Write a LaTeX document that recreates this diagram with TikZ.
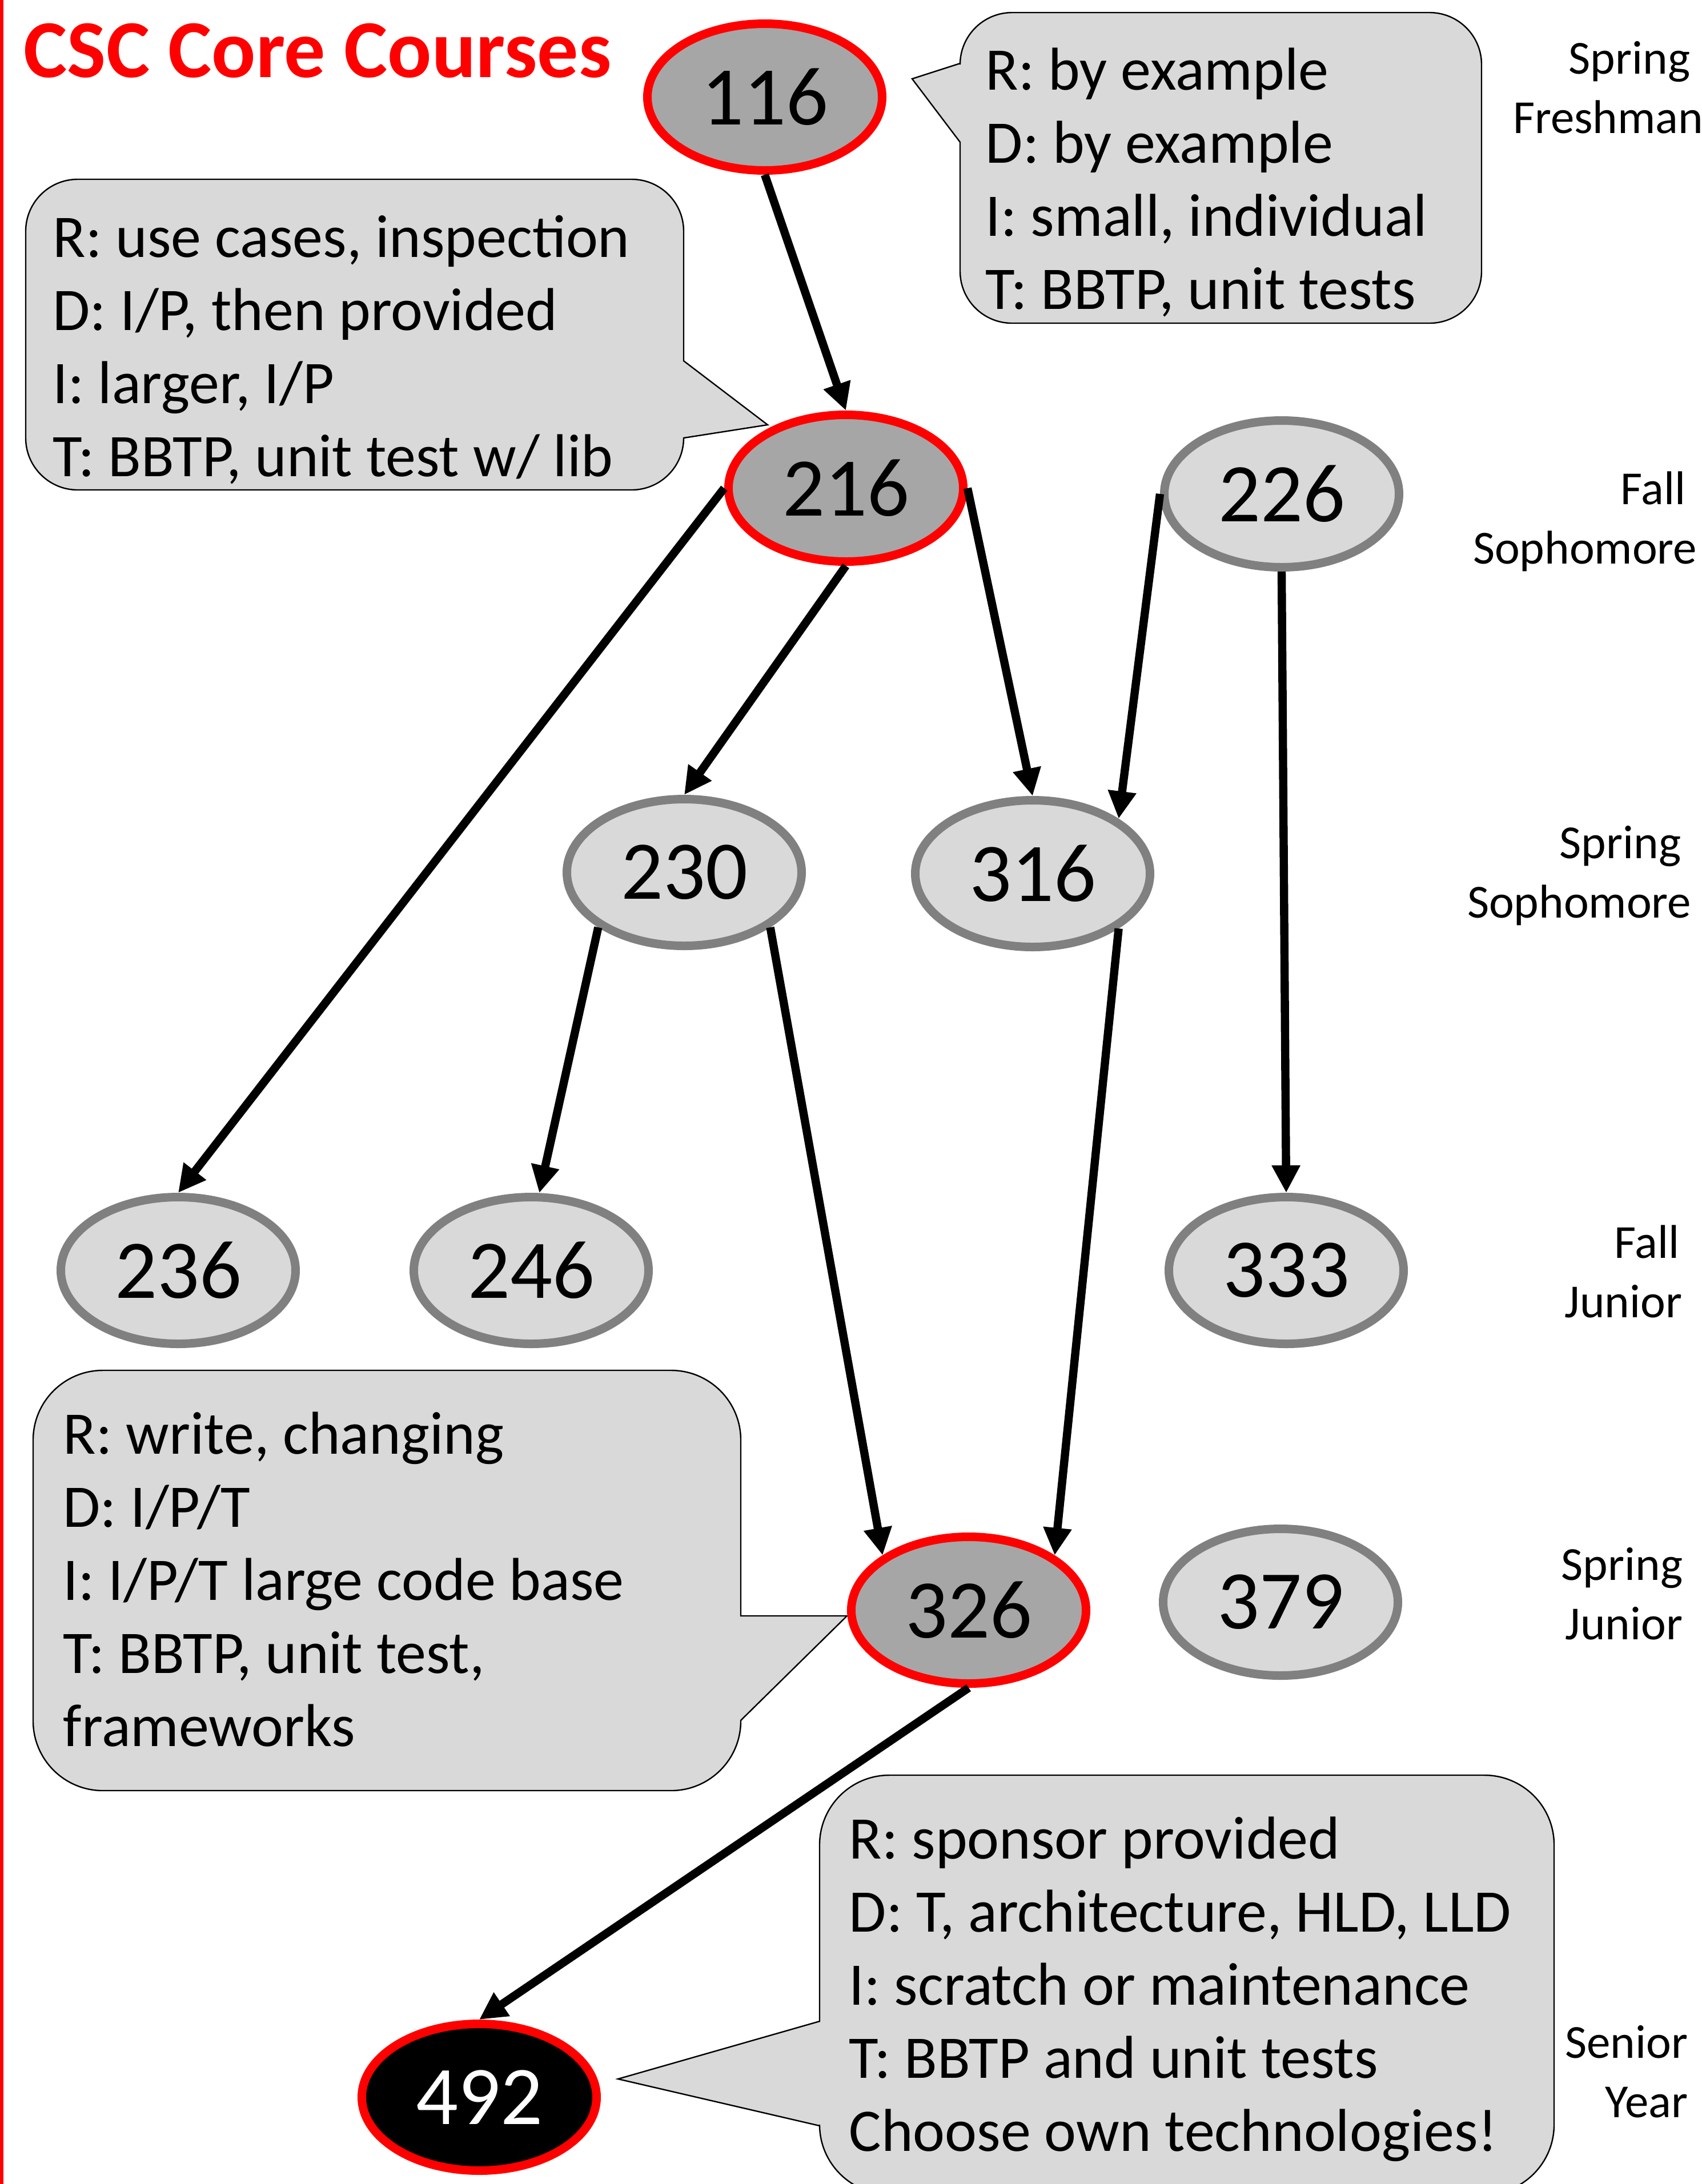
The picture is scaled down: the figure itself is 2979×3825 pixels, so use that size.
\documentclass[tikz,border=0pt]{standalone}
\usepackage{fontspec}
\setmainfont{Carlito}
\usetikzlibrary{shapes.geometric,arrows.meta}
\definecolor{pptred}{HTML}{FF0000}
\definecolor{darkfill}{HTML}{A6A6A6}
\definecolor{lightfill}{HTML}{D9D9D9}
\definecolor{grayline}{HTML}{808080}
\begin{document}
\begin{tikzpicture}[x=0.25pt,y=-0.25pt,
  course/.style={ellipse, minimum width=102.75pt, minimum height=64.25pt, inner sep=0pt, line width=3.75pt, font=\fontsize{36.5}{44}\selectfont},
  corered/.style={course, draw=pptred, fill=darkfill},
  elective/.style={course, draw=grayline, fill=lightfill},
  capstone/.style={course, draw=pptred, fill=black, text=white},
  prereq/.style={line width=3.6pt, -{Triangle[length=12pt,width=11.75pt]}},
  bubble/.style={fill=lightfill, draw=black, line width=0.6pt},
  bubbletext/.style={anchor=north west, inner sep=0pt, align=left, font=\fontsize{26.5}{32}\selectfont},
  term/.style={anchor=north east, inner sep=0pt, align=right, font=\fontsize{20.75}{26}\selectfont}]
\useasboundingbox (0,0) rectangle (2979,3825);
\fill[white] (0,0) rectangle (2979,3825);
% left red rule
\draw[pptred, line width=1.5pt] (3,0) -- (3,3825);
% title
\node[anchor=base west, inner sep=0pt, text=pptred, font=\fontsize{36}{42}\selectfont\bfseries] (title) at (41,135) {CSC Core Courses};

% callouts
\draw[bubble] (1681,111) [rounded corners=22.75pt] -- (1681,22) -- (2594,22) -- (2594,566) -- (1681,566) [sharp corners] -- (1681,249) -- (1597,138) -- cycle;
\draw[bubble] (1197,767) [rounded corners=22.75pt] -- (1197,858) -- (45,858) -- (45,314) -- (1197,314) [sharp corners] -- (1197,632) -- (1344,744) -- cycle;
\draw[bubble] (1297,3013) [rounded corners=30.5pt] -- (1297,3136) -- (58,3136) -- (58,2400) -- (1297,2400) [sharp corners] -- (1297,2830) -- (1483,2830) -- cycle;
\draw[bubble] (1435,3540) [rounded corners=30.5pt] -- (1435,3109) -- (2721,3109) -- (2721,3843) -- (1435,3843) [sharp corners] -- (1435,3723) -- (1082,3641) -- cycle;

\node[bubbletext] (noteA) at (1725,67) {\strut R: by example\\D: by example\\I: small, individual\\T: BBTP, unit tests};
\node[bubbletext] (noteB) at (92,360) {\strut R: use cases, inspection\\D: I/P, then provided\\I: larger, I/P\\T: BBTP, unit test w/ lib};
\node[bubbletext] (noteC) at (110,2456) {\strut R: write, changing\\D: I/P/T\\I: I/P/T large code base\\T: BBTP, unit test,\\frameworks};
\node[bubbletext] (noteD) at (1486,3165) {\strut R: sponsor provided\\D: T, architecture, HLD, LLD\\I: scratch or maintenance\\T: BBTP and unit tests\\Choose own technologies!};

% courses
\node[corered] (c116) at (1339,170) {116};
\node[corered] (c216) at (1481,855) {216};
\node[elective] (c226) at (2244,865) {226};
\node[elective] (c230) at (1198,1528) {230};
\node[elective] (c316) at (1808,1530) {316};
\node[elective] (c236) at (312,2225) {236};
\node[elective] (c246) at (930,2225) {246};
\node[elective] (c333) at (2252,2225) {333};
\node[corered] (c326) at (1696,2820) {326};
\node[elective] (c379) at (2242,2806) {379};
\node[capstone] (c492) at (839,3673) {492};

% prerequisites
\draw[prereq] (c116.south) -- (c216.north);
\draw[prereq] (c216.west) -- (c236.north);
\draw[prereq] (c216.south) -- (c230.north);
\draw[prereq] (c216.east) -- (c316.north);
\draw[prereq] (c226.west) -- (c316.north east);
\draw[prereq] (c226.south) -- (c333.north);
\draw[prereq] (c230.south west) -- (c246.84);
\draw[prereq] (c230.south east) -- (c326.north west);
\draw[prereq] (c316.south east) -- (c326.north east);
\draw[prereq] (c326.south) -- (c492.north);

% terms
\node[term] (t1) at (2983,56) {\strut Spring\hspace*{5.75pt}\\Freshman};
\node[term] (t2) at (2972,810) {\strut Fall\hspace*{5pt}\\Sophomore};
\node[term] (t3) at (2962,1430) {\strut Spring\hspace*{4.5pt}\\Sophomore};
\node[term] (t4) at (2946,2130) {\strut Fall\hspace*{1.25pt}\\Junior};
\node[term] (t5) at (2947,2694) {\strut Spring\\Junior};
\node[term] (t6) at (2956,3531) {\strut Senior\\Year};
\end{tikzpicture}
\end{document}
